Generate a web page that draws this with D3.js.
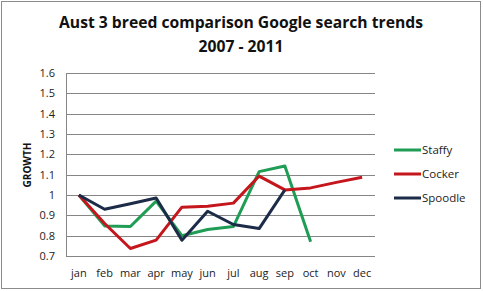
<!DOCTYPE html>
<html>
<head>
<meta charset="utf-8">
<script src="https://cdn.jsdelivr.net/npm/d3@7"></script>
<style>
  body { margin: 0; background: #fff; }
  svg { display: block; font-family: "Open Sans", "Noto Sans", sans-serif; }
</style>
</head>
<body>
<svg id="chart" width="483" height="291"></svg>
<script>
const months = ["jan", "feb", "mar", "apr", "may", "jun", "jul", "aug", "sep", "oct", "nov", "dec"];
const staffy = [1.0, 0.848, 0.845, 0.97, 0.80, 0.83, 0.845, 1.115, 1.143, 0.77, null, null];
const cocker = [1.0, 0.86, 0.737, 0.778, 0.94, 0.945, 0.96, 1.093, 1.025, 1.035, 1.062, 1.087];
const spoodle = [1.0, 0.93, 0.957, 0.985, 0.778, 0.92, 0.855, 0.835, 1.025, null, null, null];
const yTicks = [0.7, 0.8, 0.9, 1, 1.1, 1.2, 1.3, 1.4, 1.5, 1.6];
const titleLines = ["Aust 3 breed comparison Google search trends", "2007 - 2011"];

const series = [
    { name: "Staffy", values: staffy, color: "#1f9d55" },
    { name: "Cocker", values: cocker, color: "#c4161c" },
    { name: "Spoodle", values: spoodle, color: "#1c2b48" },
];

const margin = { top: 73, right: 108, bottom: 35, left: 66 };
const svg = d3.select("#chart");
const width = 483 - margin.left - margin.right;
const height = 291 - margin.top - margin.bottom;

// outer frame
svg.append("rect")
    .attr("x", 1.5).attr("y", 1.5)
    .attr("width", 479).attr("height", 287)
    .attr("fill", "none").attr("stroke", "#8c8c8c").attr("stroke-width", 1);

// title
svg.append("g")
    .selectAll("text")
    .data(titleLines)
    .enter()
    .append("text")
    .attr("x", 241)
    .attr("y", (d, i) => 28 + i * 24)
    .attr("text-anchor", "middle")
    .attr("font-size", 15.7)
    .attr("font-weight", "bold")
    .attr("fill", "#111")
    .text((d) => d);

const g = svg.append("g").attr("transform", `translate(${margin.left}, ${margin.top})`);

const x = d3.scaleBand().domain(months).range([0, width]);
const y = d3.scaleLinear().domain([0.7, 1.6]).range([height, 0]);

// gridlines
g.append("g")
    .selectAll("line")
    .data(yTicks)
    .enter()
    .append("line")
    .attr("x1", 0).attr("x2", width)
    .attr("y1", (d) => Math.round(y(d)) + 0.5)
    .attr("y2", (d) => Math.round(y(d)) + 0.5)
    .attr("stroke", "#868686");

// y axis
const yAxis = g.append("g")
    .call(d3.axisLeft(y).tickValues(yTicks).tickSize(0).tickPadding(11).tickFormat(d3.format("")));
yAxis.select(".domain").attr("stroke", "#868686").attr("d", `M0.5,0V${height}`);
yAxis.selectAll("text").attr("font-size", 11).attr("fill", "#222").attr("font-family", "Open Sans, sans-serif");

// x axis
const xAxis = g.append("g")
    .attr("transform", `translate(0, ${height})`)
    .call(d3.axisBottom(x).tickSize(0).tickPadding(13));
xAxis.select(".domain").remove();
xAxis.selectAll("text").attr("font-size", 11).attr("fill", "#222").attr("font-family", "Open Sans, sans-serif");

// axis title
svg.append("text")
    .attr("transform", "translate(31, 165) rotate(-90)")
    .attr("text-anchor", "middle")
    .attr("font-size", 10)
    .attr("font-weight", "bold")
    .attr("fill", "#111")
    .text("GROWTH");

const line = d3.line()
    .defined((d) => d != null)
    .x((d, i) => x(months[i]) + x.bandwidth() / 2)
    .y((d) => y(d));

g.selectAll(".line")
    .data(series)
    .enter()
    .append("path")
    .attr("class", "line")
    .attr("fill", "none")
    .attr("stroke", (d) => d.color)
    .attr("stroke-width", 3)
    .attr("stroke-linejoin", "round")
    .attr("d", (d) => line(d.values));

// legend
const legend = svg.append("g").attr("transform", "translate(394, 150)");
const items = legend.selectAll("g")
    .data(series)
    .enter()
    .append("g")
    .attr("transform", (d, i) => `translate(0, ${i * 24})`);
items.append("line")
    .attr("x1", 0).attr("x2", 27)
    .attr("stroke", (d) => d.color)
    .attr("stroke-width", 3);
items.append("text")
    .attr("x", 28)
    .attr("dy", "0.35em")
    .attr("font-size", 11.5)
    .attr("fill", "#222")
    .text((d) => d.name);
</script>
</body>
</html>
